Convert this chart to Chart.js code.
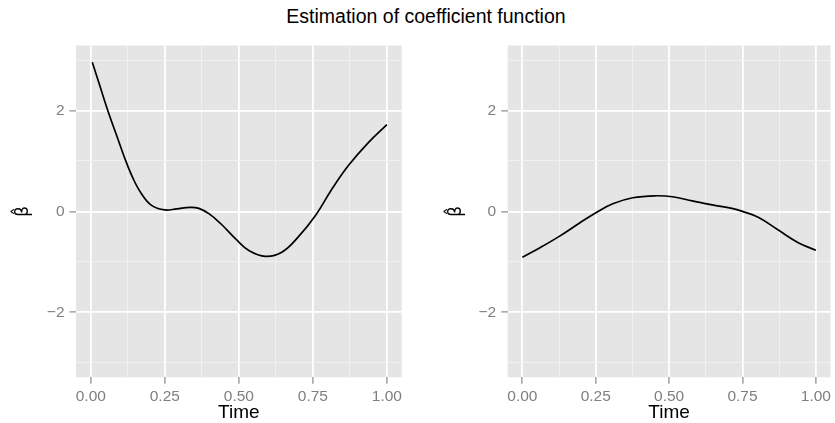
<!DOCTYPE html>
<html>
<head>
<meta charset="utf-8">
<script src="https://cdn.jsdelivr.net/npm/chart.js@4.4.1/dist/chart.umd.min.js"></script>
<style>
  html, body { margin: 0; padding: 0; background: #ffffff; }
  #wrap { position: relative; width: 835px; height: 423px; overflow: hidden; }
  #title {
    position: absolute; left: 0; width: 852px; top: 5px;
    text-align: center; font-family: "Liberation Sans", Arial, sans-serif;
    font-size: 19.5px; color: #000000;
  }
  canvas { position: absolute; top: 0; }
  #leftChart { left: 0; }
  #rightChart { left: 418px; }
</style>
</head>
<body>
<div id="wrap">
  <div id="title">Estimation of coefficient function</div>
  <canvas id="leftChart" width="418" height="423"></canvas>
  <canvas id="rightChart" width="417" height="423"></canvas>
</div>
<script>
// Datos
const leftTime = [0.005, 0.03, 0.059, 0.087, 0.115, 0.143, 0.171, 0.205, 0.25, 0.29, 0.335, 0.365, 0.40, 0.44, 0.49, 0.535, 0.59, 0.645, 0.70, 0.76, 0.815, 0.87, 0.935, 1.0];
const leftBeta = [2.96, 2.50, 1.97, 1.51, 1.05, 0.65, 0.35, 0.12, 0.03, 0.05, 0.08, 0.06, -0.05, -0.25, -0.55, -0.78, -0.89, -0.81, -0.51, -0.07, 0.45, 0.91, 1.35, 1.72];

const rightTime = [0, 0.06, 0.127, 0.195, 0.252, 0.308, 0.376, 0.455, 0.511, 0.579, 0.647, 0.714, 0.75, 0.805, 0.872, 0.94, 1.0];
const rightBeta = [-0.91, -0.72, -0.49, -0.23, -0.02, 0.15, 0.27, 0.31, 0.29, 0.21, 0.13, 0.06, 0.00, -0.12, -0.37, -0.62, -0.77];

// Ticks: mayores con etiqueta, menores solo rejilla
const xTicks = [0, 0.125, 0.25, 0.375, 0.5, 0.625, 0.75, 0.875, 1];
const xMajor = [0, 0.25, 0.5, 0.75, 1];
const yTicks = [-3, -2, -1, 0, 1, 2, 3];
const yMajor = [-2, 0, 2];

const FONT = '"Liberation Sans", Arial, sans-serif';
const isMajor = (list, v) => list.some(m => Math.abs(m - v) < 1e-9);

// Fondo gris del panel
const panelBackground = {
    id: 'panelBackground',
    beforeDraw(chart) {
        const {ctx, chartArea: a} = chart;
        ctx.save();
        ctx.fillStyle = '#E5E5E5';
        ctx.fillRect(a.left, a.top, a.right - a.left, a.bottom - a.top);
        ctx.restore();
    }
};

function gridOptions(major) {
    return {
        color: c => isMajor(major, c.tick.value) ? '#FFFFFF' : '#F2F2F2',
        lineWidth: c => isMajor(major, c.tick.value) ? 1.8 : 0.9,
        tickColor: c => isMajor(major, c.tick.value) ? '#7F7F7F' : 'rgba(0,0,0,0)',
        tickLength: 6.5,
        tickWidth: 1.1
    };
}

function makePanel(canvasId, times, betas, yAxisWidth, yTitlePad, padRight) {
    return new Chart(document.getElementById(canvasId), {
        type: 'line',
        data: {
            datasets: [{
                data: times.map((t, i) => ({x: t, y: betas[i]})),
                borderColor: '#000000',
                borderWidth: 1.7,
                pointRadius: 0,
                fill: false,
                tension: 0.4
            }]
        },
        options: {
            responsive: false,
            animation: false,
            devicePixelRatio: 1,
            layout: { padding: { top: 45.5, right: padRight, left: 0, bottom: 0 } },
            plugins: { legend: { display: false }, tooltip: { enabled: false }, title: { display: false } },
            scales: {
                x: {
                    type: 'linear',
                    min: -0.05,
                    max: 1.05,
                    afterBuildTicks: s => { s.ticks = xTicks.map(v => ({value: v})); },
                    afterFit: s => { s.height = 45.7; },
                    border: { display: false },
                    grid: gridOptions(xMajor),
                    ticks: {
                        autoSkip: false,
                        maxRotation: 0,
                        padding: 4,
                        color: '#7F7F7F',
                        font: { family: FONT, size: 15.5 },
                        callback: v => isMajor(xMajor, v) ? v.toFixed(2) : ''
                    },
                    title: {
                        display: true,
                        text: 'Time',
                        color: '#000000',
                        font: { family: FONT, size: 19, lineHeight: 1 },
                        padding: { top: 0, bottom: 0.5 }
                    }
                },
                y: {
                    type: 'linear',
                    min: -3.29,
                    max: 3.29,
                    afterBuildTicks: s => { s.ticks = yTicks.map(v => ({value: v})); },
                    afterFit: s => { s.width = yAxisWidth; },
                    border: { display: false },
                    grid: gridOptions(yMajor),
                    ticks: {
                        autoSkip: false,
                        padding: 5,
                        color: '#7F7F7F',
                        font: { family: FONT, size: 15.5 },
                        callback: v => isMajor(yMajor, v) ? (v < 0 ? '\u2212' + Math.abs(v) : String(v)) : ''
                    },
                    title: {
                        display: true,
                        text: '\u03B2\u0302',
                        color: '#000000',
                        font: { family: '"DejaVu Sans", sans-serif', size: 17, lineHeight: 1.2 },
                        padding: { top: yTitlePad, bottom: 0 }
                    }
                }
            }
        },
        plugins: [panelBackground]
    });
}

makePanel('leftChart', leftTime, leftBeta, 76, 13.8, 16.3);
makePanel('rightChart', rightTime, rightBeta, 89.7, 28.8, 1);
</script>
</body>
</html>
